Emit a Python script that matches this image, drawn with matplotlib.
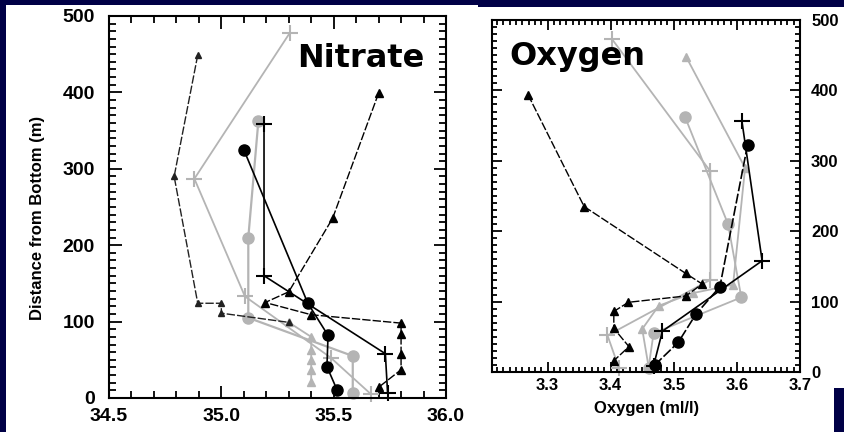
"""
salinity / oxygen profiles vs distance from bottom, two panels on a slide.
"""
import matplotlib.pyplot as plt
from matplotlib.patches import Rectangle
from matplotlib.ticker import MultipleLocator

############################################################
#                           data                           #
############################################################

# left panel ("Nitrate" slide label, axis is 34.5 - 36.0)
left_tri_a_x = [34.895, 34.79, 34.895, 35.0, 35.0, 35.30]
left_tri_a_y = [449, 290, 124, 124, 111, 99]
left_tri_c_x = [35.30, 35.40, 35.40, 35.40, 35.40, 35.40]
left_tri_c_y = [99, 80, 63, 50, 37, 21]
left_tri_b_x = [35.70, 35.495, 35.30, 35.195, 35.40, 35.80, 35.80, 35.80, 35.80, 35.70]
left_tri_b_y = [399, 235, 139, 125, 109, 98, 84, 57, 37, 14]
left_plus_k_x = [35.19, 35.19, 35.73, 35.74]
left_plus_k_y = [358, 160, 58, 7]
left_circ_k_x = [35.10, 35.385, 35.475, 35.47, 35.516]
left_circ_k_y = [325, 124, 82, 41, 10]
left_circ_g_x = [35.165, 35.12, 35.12, 35.585, 35.585]
left_circ_g_y = [363, 210, 105, 55, 6]
left_plus_g_x = [35.305, 34.88, 35.105, 35.486, 35.666]
left_plus_g_y = [478, 287, 133, 53, 5]

# right panel (oxygen, ml/l)
ox_tri_b_x = [3.269, 3.358, 3.519, 3.545, 3.519, 3.428, 3.405, 3.405, 3.429, 3.405]
ox_tri_b_y = [394, 235, 140, 125, 108, 99, 86, 62, 36, 16]
ox_plus_k_x = [3.608, 3.640, 3.482, 3.468]
ox_plus_k_y = [356, 158, 58, 9]
ox_circ_k_x = [3.617, 3.573, 3.535, 3.507, 3.470]
ox_circ_k_y = [323, 121, 82, 42, 10]
ox_circ_g_x = [3.518, 3.586, 3.607, 3.468, 3.460]
ox_circ_g_y = [362, 210, 106, 55, 6]
ox_plus_g_x = [3.402, 3.558, 3.558, 3.395, 3.413]
ox_plus_g_y = [473, 285, 131, 52, 6]
ox_tri_g_x = [3.520, 3.613, 3.594, 3.530, 3.476, 3.450, 3.460]
ox_tri_g_y = [447, 290, 124, 112, 94, 61, 8]

############################################################
#                           plot                           #
############################################################

GRAY = "#b4b4b4"
NAVY = "#000046"
SANS = ["Liberation Sans Narrow", "Liberation Sans", "DejaVu Sans"]
plt.rcParams["font.family"] = SANS
plt.rcParams["font.weight"] = "bold"

fig = plt.figure(figsize=(8.44, 4.32), dpi=100, facecolor=NAVY)
W, H = 844.0, 432.0
# white slide areas
for x0, top, x1, bot in [(6, 5, 478, 432), (478, 7, 844, 432)]:
    fig.patches.append(
        Rectangle((x0 / W, 1 - bot / H), (x1 - x0) / W, (bot - top) / H,
                  transform=fig.transFigure, facecolor="white",
                  edgecolor="none", zorder=-2)
    )
fig.patches.append(
    Rectangle((834 / W, 0), 10 / W, 44 / H, transform=fig.transFigure,
              facecolor=NAVY, edgecolor="none", zorder=-1)
)

ax1 = fig.add_axes([109 / W, 34 / H, 337 / W, 382 / H])
ax2 = fig.add_axes([492 / W, 60 / H, 308 / W, 352 / H])


def profile(ax, x, y, color, marker, ms, lw=1.0, mew=1.0, ls="-"):
    ax.plot(x, y, color=color, marker=marker, markersize=ms, linewidth=lw,
            markeredgewidth=mew, linestyle=ls, clip_on=False)


# left panel
profile(ax1, left_plus_g_x, left_plus_g_y, GRAY, "+", 11, lw=1.3, mew=1.5)
profile(ax1, left_circ_g_x, left_circ_g_y, GRAY, "o", 8, lw=1.6)
profile(ax1, left_tri_c_x, left_tri_c_y, GRAY, "^", 6, lw=1.3)
profile(ax1, left_tri_a_x, left_tri_a_y, "#222222", "^", 5, ls=(0, (6, 1.5)))
profile(ax1, left_tri_b_x, left_tri_b_y, "black", "^", 6, ls=(0, (6, 1.5)))
profile(ax1, left_plus_k_x, left_plus_k_y, "black", "+", 11, lw=1.2, mew=1.5)
profile(ax1, left_circ_k_x, left_circ_k_y, "black", "o", 8, lw=1.2)

# right panel
profile(ax2, ox_plus_g_x, ox_plus_g_y, GRAY, "+", 11, lw=1.3, mew=1.5)
profile(ax2, ox_circ_g_x, ox_circ_g_y, GRAY, "o", 8, lw=1.3)
profile(ax2, ox_tri_g_x, ox_tri_g_y, GRAY, "^", 6, lw=1.3)
profile(ax2, ox_tri_b_x, ox_tri_b_y, "black", "^", 6, ls=(0, (6, 1.5)))
profile(ax2, ox_plus_k_x, ox_plus_k_y, "black", "+", 11, lw=1.2, mew=1.5)
profile(ax2, ox_circ_k_x, ox_circ_k_y, "black", "o", 8, lw=1.2, ls=(0, (6, 1.5)))

# axes cosmetics
ax1.set_xlim(34.5, 36.0)
ax1.set_ylim(0, 500)
ax1.set_xticks([34.5, 35.0, 35.5, 36.0])
ax1.set_xticklabels(["34.5", "35.0", "35.5", "36.0"])
ax1.xaxis.set_minor_locator(MultipleLocator(0.1))

ax2.set_xlim(3.212, 3.70)
ax2.set_ylim(0, 500)
ax2.set_xticks([3.3, 3.4, 3.5, 3.6, 3.7])
ax2.set_xticklabels(["3.3", "3.4", "3.5", "3.6", "3.7"])
ax2.xaxis.set_minor_locator(MultipleLocator(0.01))

for ax in (ax1, ax2):
    ax.yaxis.set_major_locator(MultipleLocator(100))
    ax.yaxis.set_minor_locator(MultipleLocator(10))
    ax.tick_params(which="both", direction="in", top=True, right=True,
                   width=1.3, colors="black")
    for s in ax.spines.values():
        s.set_linewidth(1.5)

ax1.tick_params(which="major", length=9, labelsize=14)
ax1.tick_params(which="minor", length=5)
ax1.tick_params(axis="y", pad=10)
ax1.tick_params(axis="x", pad=7)

ax2.tick_params(which="major", length=7, labelsize=12)
ax2.tick_params(which="minor", length=3.5)
ax2.tick_params(axis="y", labelleft=False, labelright=True, pad=8)
ax2.tick_params(axis="x", pad=4)

fig.text(38 / W, 1 - 218 / H, "Distance from Bottom (m)", rotation=90,
         ha="center", va="center", fontsize=12, fontweight="bold")
fig.text(647 / W, 1 - 408 / H, "Oxygen (ml/l)", ha="center", va="center",
         fontsize=12, fontweight="bold")

ax1.text(0.558, 0.866, "Nitrate", transform=ax1.transAxes, fontsize=23,
         fontweight="bold", va="baseline", ha="left", family="DejaVu Sans")
ax2.text(0.058, 0.872, "Oxygen", transform=ax2.transAxes, fontsize=23,
         fontweight="bold", va="baseline", ha="left", family="DejaVu Sans")

plt.savefig("out.png", dpi=100, facecolor=NAVY)
